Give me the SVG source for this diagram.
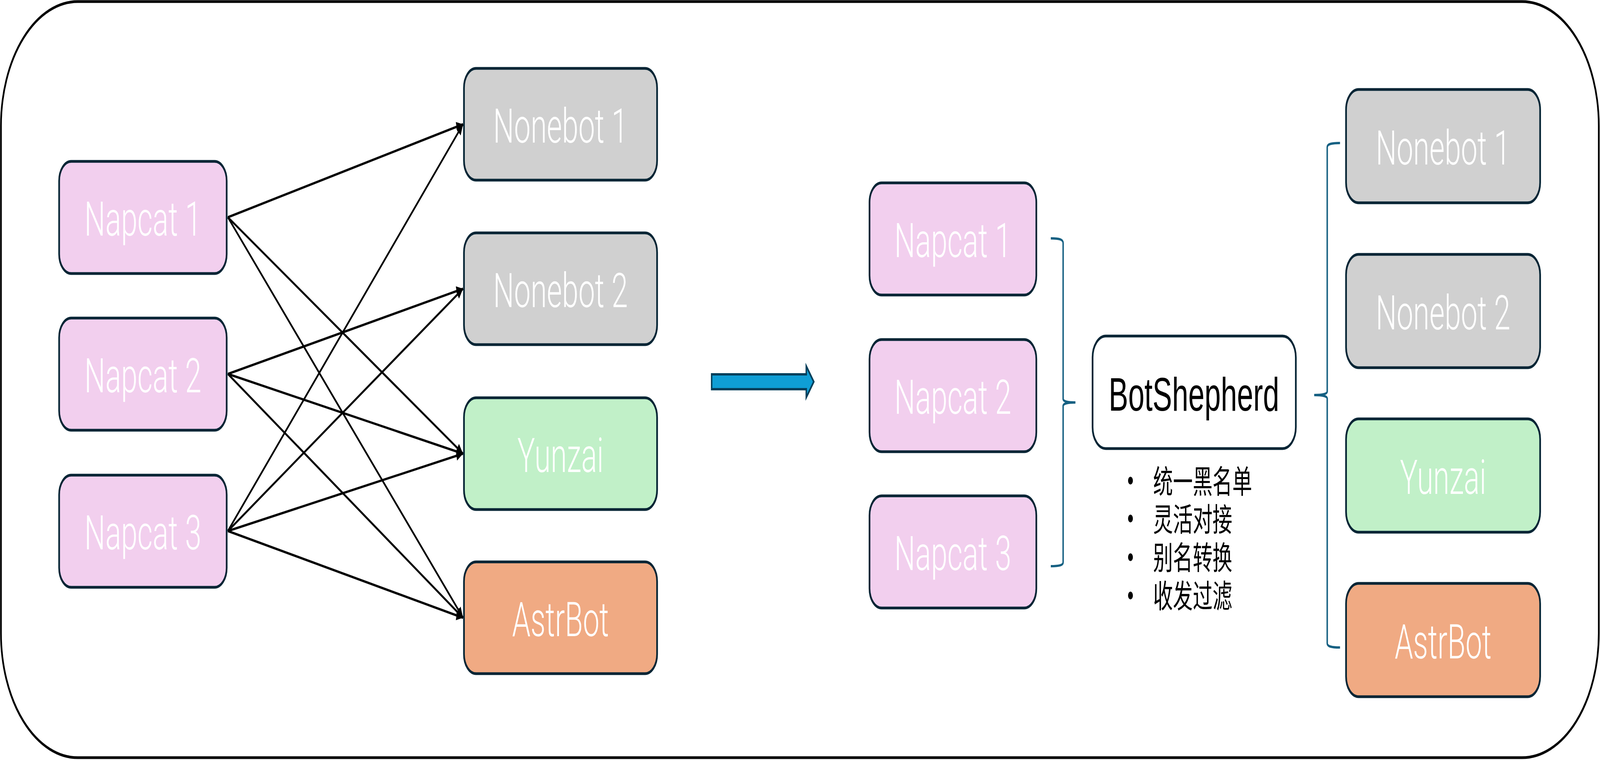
<svg xmlns="http://www.w3.org/2000/svg" width="6628" height="1945" viewBox="0 0 6628 1945" style="width:100vw;height:100vh" preserveAspectRatio="none">
<style>
.node{stroke:#062535;stroke-width:7}
.nap{fill:#F2CFEE}
.nb{fill:#D0D0D0}
.yz{fill:#C1F0C8}
.ab{fill:#F0AA83}
.lbl{font-family:Roboto,"Liberation Sans",sans-serif;font-weight:300;font-size:122px;fill:#FFFFFF;text-anchor:middle}
.bs{font-family:"Liberation Sans",Arial,sans-serif;font-size:121px;fill:#000000;text-anchor:middle}
.cjk{font-family:"Liberation Sans","Noto Sans CJK SC",sans-serif;font-size:82px;fill:#000000}
.conn{stroke:#000000;stroke-width:6;fill:none;marker-end:url(#ah)}
.brace{stroke:#156082;stroke-width:6;fill:none}
</style>
<defs>
<marker id="ah" markerUnits="strokeWidth" markerWidth="4.6" markerHeight="4.2" refX="4.6" refY="2.1" orient="auto" overflow="visible">
<path d="M0,0 L4.6,2.1 L0,4.2 Z" fill="#000000"/>
</marker>
</defs>
<rect id="frame" x="4" y="4" width="6619" height="1935" rx="318" ry="318" fill="#FFFFFF" stroke="#000000" stroke-width="7"/>

<g id="connectors">
<line class="conn" x1="944" y1="556" x2="1918" y2="318"/>
<line class="conn" x1="944" y1="556" x2="1918" y2="1161"/>
<line class="conn" x1="944" y1="556" x2="1918" y2="1581"/>
<line class="conn" x1="944" y1="957" x2="1918" y2="739"/>
<line class="conn" x1="944" y1="957" x2="1918" y2="1161"/>
<line class="conn" x1="944" y1="957" x2="1918" y2="1581"/>
<line class="conn" x1="944" y1="1359" x2="1918" y2="318"/>
<line class="conn" x1="944" y1="1359" x2="1918" y2="739"/>
<line class="conn" x1="944" y1="1359" x2="1918" y2="1161"/>
<line class="conn" x1="944" y1="1359" x2="1918" y2="1581"/>
<path id="transition-arrow" d="M2948,958 H3340 V937 L3371,977 L3340,1017 V996 H2948 Z" fill="#0F9ED5" stroke="#033F5B" stroke-width="6"/>
<path id="brace-left" class="brace" d="M4353,610 C4390,610 4404,613 4404,622 V1021 C4404,1027 4420,1030 4455,1030 C4420,1030 4404,1033 4404,1039 V1439 C4404,1446 4390,1449 4353,1449"/>
<path id="brace-right" class="brace" d="M5551,366 C5512,366 5498,369 5498,377 V1002 C5498,1008 5480,1011 5444,1011 C5480,1011 5498,1014 5498,1020 V1646 C5498,1654 5512,1657 5551,1657"/>
</g>

<g id="l-napcat1"><rect class="node nap" x="245" y="413" width="694" height="287" rx="50"/><text class="lbl" x="592" y="603">Napcat 1</text></g>
<g id="l-napcat2"><rect class="node nap" x="245" y="814" width="694" height="287" rx="50"/><text class="lbl" x="592" y="1004">Napcat 2</text></g>
<g id="l-napcat3"><rect class="node nap" x="245" y="1216" width="694" height="287" rx="50"/><text class="lbl" x="592" y="1406">Napcat 3</text></g>

<g id="l-nonebot1"><rect class="node nb" x="1922" y="175" width="800" height="286" rx="50"/><text class="lbl" x="2322" y="365">Nonebot 1</text></g>
<g id="l-nonebot2"><rect class="node nb" x="1922" y="596" width="800" height="286" rx="50"/><text class="lbl" x="2322" y="786">Nonebot 2</text></g>
<g id="l-yunzai"><rect class="node yz" x="1922" y="1018" width="800" height="286" rx="50"/><text class="lbl" x="2322" y="1208">Yunzai</text></g>
<g id="l-astrbot"><rect class="node ab" x="1922" y="1438" width="800" height="286" rx="50"/><text class="lbl" x="2322" y="1628">AstrBot</text></g>

<g id="r-napcat1"><rect class="node nap" x="3602" y="468" width="691" height="287" rx="50"/><text class="lbl" x="3947" y="658">Napcat 1</text></g>
<g id="r-napcat2"><rect class="node nap" x="3602" y="869" width="691" height="287" rx="50"/><text class="lbl" x="3947" y="1059">Napcat 2</text></g>
<g id="r-napcat3"><rect class="node nap" x="3602" y="1269" width="691" height="287" rx="50"/><text class="lbl" x="3947" y="1459">Napcat 3</text></g>

<g id="botshepherd"><rect class="node" fill="#FFFFFF" x="4526" y="860" width="842" height="288" rx="55"/><text class="bs" x="4946" y="1051">BotShepherd</text></g>

<g id="features">
<circle cx="4683" cy="1230" r="10" fill="#000000"/>
<circle cx="4683" cy="1327" r="10" fill="#000000"/>
<circle cx="4683" cy="1426" r="10" fill="#000000"/>
<circle cx="4683" cy="1524" r="10" fill="#000000"/>
<text class="cjk" x="4777" y="1262">统一黑名单</text>
<text class="cjk" x="4777" y="1359">灵活对接</text>
<text class="cjk" x="4777" y="1457">别名转换</text>
<text class="cjk" x="4777" y="1555">收发过滤</text>
</g>

<g id="r-nonebot1"><rect class="node nb" x="5576" y="229" width="804" height="290" rx="52"/><text class="lbl" x="5978" y="421">Nonebot 1</text></g>
<g id="r-nonebot2"><rect class="node nb" x="5576" y="651" width="804" height="290" rx="52"/><text class="lbl" x="5978" y="843">Nonebot 2</text></g>
<g id="r-yunzai"><rect class="node yz" x="5576" y="1072" width="804" height="290" rx="52"/><text class="lbl" x="5978" y="1264">Yunzai</text></g>
<g id="r-astrbot"><rect class="node ab" x="5576" y="1493" width="804" height="290" rx="52"/><text class="lbl" x="5978" y="1685">AstrBot</text></g>
</svg>
